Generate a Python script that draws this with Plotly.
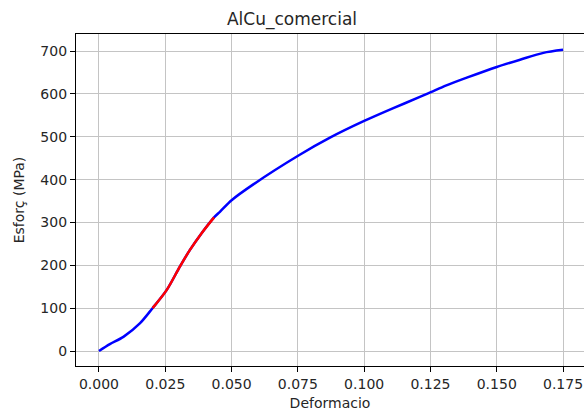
import plotly.graph_objects as go

# Stress-strain curve of the commercial AlCu sample
deformacio = [0.0, 0.0041, 0.0092, 0.0155, 0.0202, 0.0255, 0.0305, 0.0343, 0.0387,
              0.0434, 0.0456, 0.0500, 0.0582, 0.0754, 0.0871, 0.1000, 0.1110,
              0.1210, 0.1254, 0.1310, 0.1387, 0.1500, 0.1588, 0.1676, 0.1750]
esforc = [0, 16, 33, 65, 100, 142, 197, 236, 275,
          312, 325, 352, 389, 457, 498, 537, 567,
          593, 605, 620, 638, 663, 680, 696, 703]

# Elastic (linear fit) region highlighted in red
elastic_lo, elastic_hi = 0.0202, 0.0434

x_ticks = [0.000, 0.025, 0.050, 0.075, 0.100, 0.125, 0.150, 0.175]
y_ticks = [0, 100, 200, 300, 400, 500, 600, 700]

red_x = [x for x in deformacio if elastic_lo <= x <= elastic_hi]
red_y = [y for x, y in zip(deformacio, esforc) if elastic_lo <= x <= elastic_hi]

font = "DejaVu Sans"
text_color = "#262626"

fig = go.Figure()
fig.add_trace(go.Scatter(x=deformacio, y=esforc, mode="lines",
                         line=dict(color="#0000ff", width=2.5, shape="spline", smoothing=0.8),
                         hoverinfo="skip"))
fig.add_trace(go.Scatter(x=red_x, y=red_y, mode="lines",
                         line=dict(color="#ff0000", width=2.5, shape="spline", smoothing=0.8),
                         hoverinfo="skip"))

fig.update_layout(
    width=584, height=412,
    margin=dict(l=76, r=0, t=34, b=46),
    paper_bgcolor="white", plot_bgcolor="white",
    showlegend=False,
    font=dict(family=font, size=14, color=text_color),
    title=dict(text="AlCu_comercial", x=0.5, xanchor="center",
               y=1 - 19 / 412, yanchor="middle",
               font=dict(family=font, size=17, color=text_color)),
)

fig.update_xaxes(
    range=[-0.00867, 0.1829],
    tickvals=x_ticks, ticktext=[f"{v:.3f}" for v in x_ticks],
    showgrid=True, gridcolor="#c4c4c4", gridwidth=1.2,
    zeroline=False,
    showline=True, linecolor="black", linewidth=1.2, mirror=True,
    ticks="outside", ticklen=5, tickcolor="black", tickwidth=1.2,
    tickfont=dict(size=14),
    title=dict(text="Deformacio", standoff=7, font=dict(size=14)),
)
fig.update_yaxes(
    range=[-35, 740],
    tickvals=y_ticks, ticktext=[str(v) for v in y_ticks],
    showgrid=True, gridcolor="#c4c4c4", gridwidth=1.2,
    zeroline=False,
    showline=True, linecolor="black", linewidth=1.2, mirror=False,
    ticks="outside", ticklen=5, tickcolor="black", tickwidth=1.2,
    tickfont=dict(size=14),
    title=dict(text="Esforç (MPa)", standoff=12, font=dict(size=14)),
)

fig.write_html("out.html")
